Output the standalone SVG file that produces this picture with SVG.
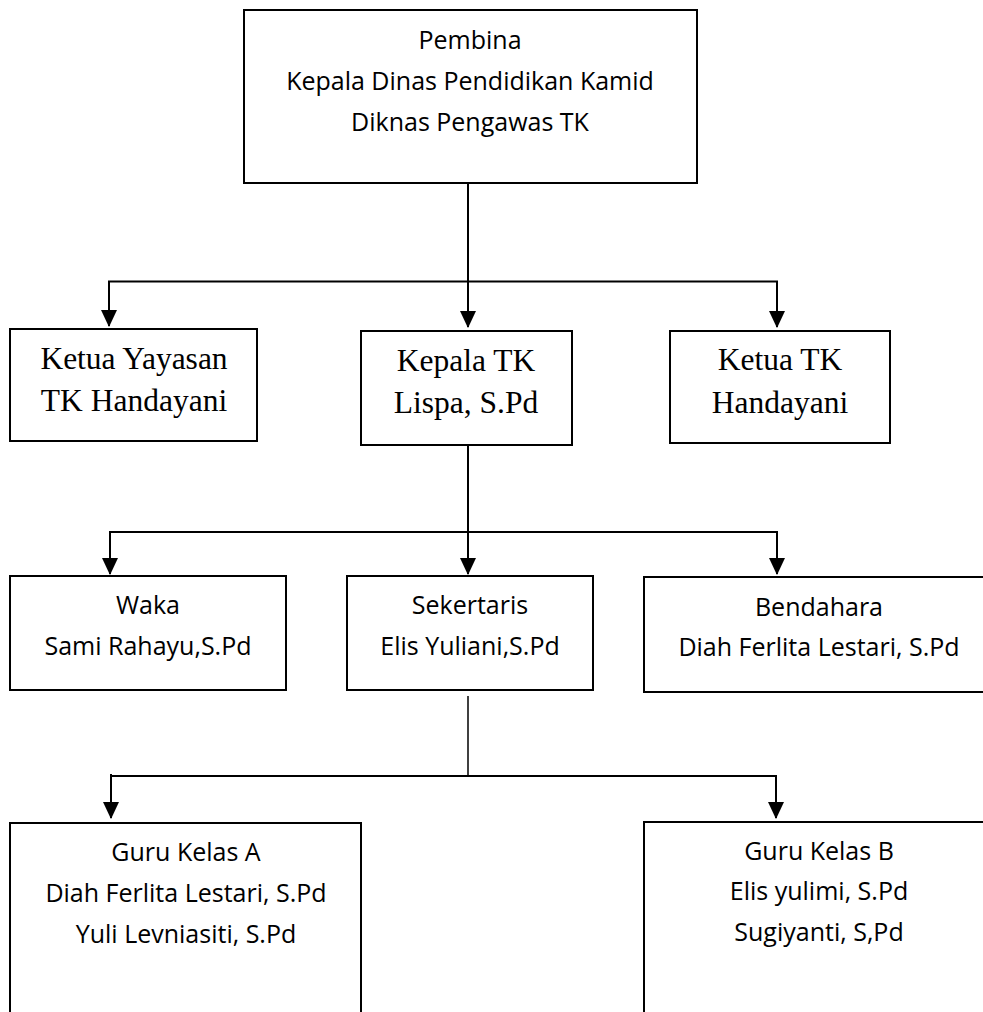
<svg xmlns="http://www.w3.org/2000/svg" width="983" height="1012" viewBox="0 0 983 1012">
<style>
.box{fill:#fff;stroke:#000;stroke-width:2}
.s{font-family:"Open Sans","Liberation Sans",sans-serif;font-size:25px;fill:#000;text-anchor:middle}
.t{font-family:"Liberation Serif","Times New Roman",serif;font-size:31.5px;fill:#000;text-anchor:middle}
.c{fill:none;stroke:#000;stroke-width:2}
.thin{fill:none;stroke:#000;stroke-width:1.5}
</style>
<defs>
<marker id="arr" viewBox="0 0 17 16" refX="16" refY="8" markerWidth="17" markerHeight="16" markerUnits="userSpaceOnUse" orient="auto">
<path d="M0,0 L17,8 L0,16 z" fill="#000"/>
</marker>
</defs>
<rect width="983" height="1012" fill="#fff"/>
<g id="connectors">
<path class="c" d="M468,184 V281.5"/>
<path class="c" d="M108,281.5 H778"/>
<path class="c" d="M109,281.5 V326" marker-end="url(#arr)"/>
<path class="c" d="M468,281.5 V327" marker-end="url(#arr)"/>
<path class="c" d="M777,281.5 V327" marker-end="url(#arr)"/>
<path class="c" d="M468,446 V532"/>
<path class="c" d="M109,532 H778"/>
<path class="c" d="M110,532 V574" marker-end="url(#arr)"/>
<path class="c" d="M468,532 V574" marker-end="url(#arr)"/>
<path class="c" d="M777,532 V574" marker-end="url(#arr)"/>
<path class="thin" d="M468,696 V776"/>
<path class="c" d="M111,776 H777"/>
<path class="c" d="M111,774 V818" marker-end="url(#arr)"/>
<path class="c" d="M776,776 V818" marker-end="url(#arr)"/>
</g>
<g id="pembina">
<rect class="box" x="244" y="10" width="453" height="173"/>
<text class="s" x="470" y="49">Pembina</text>
<text class="s" x="470" y="90">Kepala Dinas Pendidikan Kamid</text>
<text class="s" x="470" y="131">Diknas Pengawas TK</text>
</g>
<g id="ketua-yayasan">
<rect class="box" x="10" y="329" width="247" height="112"/>
<text class="t" x="134" y="369">Ketua Yayasan</text>
<text class="t" x="134" y="411">TK Handayani</text>
</g>
<g id="kepala-tk">
<rect class="box" x="361" y="331" width="211" height="114"/>
<text class="t" x="466" y="371">Kepala TK</text>
<text class="t" x="466" y="413">Lispa, S.Pd</text>
</g>
<g id="ketua-tk">
<rect class="box" x="670" y="331" width="220" height="112"/>
<text class="t" x="780" y="370">Ketua TK</text>
<text class="t" x="780" y="413">Handayani</text>
</g>
<g id="waka">
<rect class="box" x="10" y="576" width="276" height="114"/>
<text class="s" x="148" y="614">Waka</text>
<text class="s" x="148" y="655">Sami Rahayu,S.Pd</text>
</g>
<g id="sekertaris">
<rect class="box" x="347" y="576" width="246" height="114"/>
<text class="s" x="470" y="614">Sekertaris</text>
<text class="s" x="470" y="655">Elis Yuliani,S.Pd</text>
</g>
<g id="bendahara">
<rect class="box" x="644" y="577" width="352" height="115"/>
<text class="s" x="819" y="616">Bendahara</text>
<text class="s" x="819" y="656">Diah Ferlita Lestari, S.Pd</text>
</g>
<g id="guru-kelas-a">
<rect class="box" x="10" y="823" width="351" height="200"/>
<text class="s" x="186" y="861">Guru Kelas A</text>
<text class="s" x="186" y="902">Diah Ferlita Lestari, S.Pd</text>
<text class="s" x="186" y="943">Yuli Levniasiti, S.Pd</text>
</g>
<g id="guru-kelas-b">
<rect class="box" x="644" y="822" width="352" height="200"/>
<text class="s" x="819" y="860">Guru Kelas B</text>
<text class="s" x="819" y="900">Elis yulimi, S.Pd</text>
<text class="s" x="819" y="941">Sugiyanti, S,Pd</text>
</g>
</svg>
